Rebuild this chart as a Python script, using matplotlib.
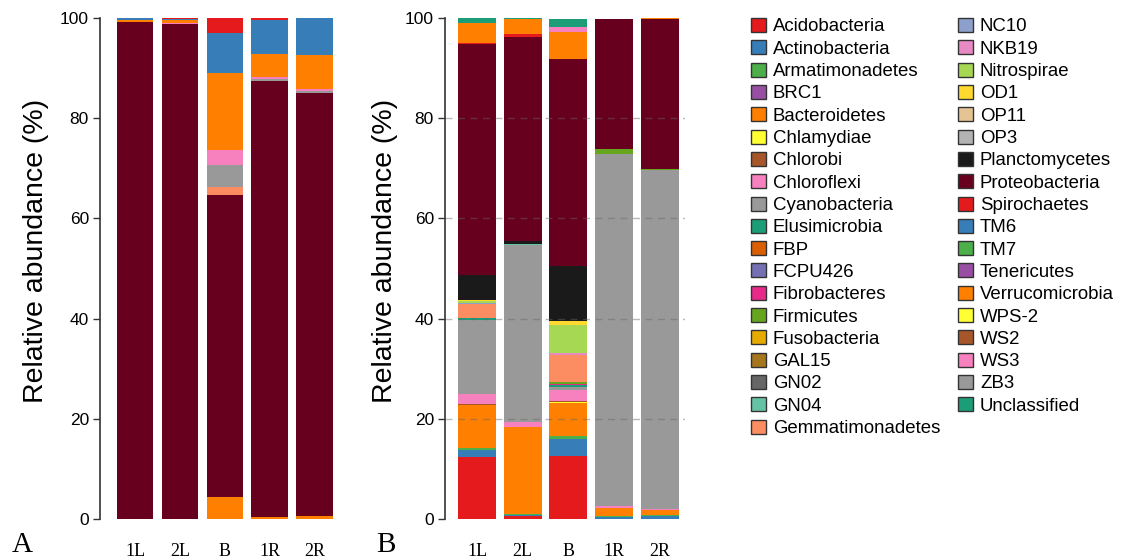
import numpy as np
import matplotlib
matplotlib.use("Agg")
import matplotlib.pyplot as plt
from matplotlib.patches import Patch

plt.rcParams['font.family'] = ['Liberation Sans', 'DejaVu Sans']

samples = ['1L', '2L', 'B', '1R', '2R']

phyla = ['Acidobacteria', 'Actinobacteria', 'Armatimonadetes', 'BRC1', 'Bacteroidetes',
         'Chlamydiae', 'Chlorobi', 'Chloroflexi', 'Cyanobacteria', 'Elusimicrobia',
         'FBP', 'FCPU426', 'Fibrobacteres', 'Firmicutes', 'Fusobacteria', 'GAL15',
         'GN02', 'GN04', 'Gemmatimonadetes', 'NC10', 'NKB19', 'Nitrospirae', 'OD1',
         'OP11', 'OP3', 'Planctomycetes', 'Proteobacteria', 'Spirochaetes', 'TM6',
         'TM7', 'Tenericutes', 'Verrucomicrobia', 'WPS-2', 'WS2', 'WS3', 'ZB3',
         'Unclassified']

colors = ['#e41a1c', '#377eb8', '#4daf4a', '#984ea3', '#ff7f00',
          '#ffff33', '#a65628', '#f781bf', '#999999', '#1b9e77',
          '#d95f02', '#7570b3', '#e7298a', '#66a61e', '#e6ab02', '#a6761d',
          '#666666', '#66c2a5', '#fc8d62', '#8da0cb', '#e78ac3', '#a6d854', '#ffd92f',
          '#e5c494', '#b3b3b3', '#1a1a1a', '#67001f', '#e41a1c', '#377eb8',
          '#4daf4a', '#984ea3', '#ff7f00', '#ffff33', '#a65628', '#f781bf', '#999999',
          '#1b9e77']

# panel A (stacked with the legend order reversed: Acidobacteria on top)
panel_a = {
    'Acidobacteria':    [0.0, 0.1, 3.0, 0.4, 0.0],
    'Actinobacteria':   [0.4, 0.3, 7.9, 6.7, 7.4],
    'Bacteroidetes':    [0.4, 0.5, 15.4, 4.6, 6.8],
    'Chloroflexi':      [0.0, 0.3, 3.0, 0.5, 0.3],
    'Cyanobacteria':    [0.0, 0.0, 4.5, 0.4, 0.4],
    'Gemmatimonadetes': [0.0, 0.0, 1.5, 0.0, 0.0],
    'Proteobacteria':   [99.2, 98.8, 60.3, 87.0, 84.6],
    'Verrucomicrobia':  [0.0, 0.0, 4.4, 0.4, 0.5],
}

# panel B (stacked in legend order from the bottom)
panel_b = {
    'Acidobacteria':    [12.35, 0.5, 12.6, 0.0, 0.0],
    'Actinobacteria':   [1.45, 0.3, 3.3, 0.4, 0.6],
    'Armatimonadetes':  [0.3, 0.2, 0.6, 0.2, 0.1],
    'Bacteroidetes':    [8.6, 17.4, 6.6, 1.6, 1.0],
    'Chlamydiae':       [0.0, 0.0, 0.3, 0.0, 0.0],
    'Chlorobi':         [0.25, 0.0, 0.25, 0.0, 0.0],
    'Chloroflexi':      [2.0, 1.0, 2.0, 0.3, 0.3],
    'Cyanobacteria':    [14.7, 35.3, 0.7, 70.3, 67.6],
    'Elusimicrobia':    [0.4, 0.0, 0.3, 0.0, 0.0],
    'Fibrobacteres':    [0.0, 0.0, 0.3, 0.0, 0.0],
    'Firmicutes':       [0.0, 0.0, 0.3, 1.0, 0.3],
    'GN04':             [0.0, 0.2, 0.0, 0.0, 0.0],
    'Gemmatimonadetes': [2.8, 0.0, 5.5, 0.0, 0.0],
    'NC10':             [0.3, 0.0, 0.0, 0.0, 0.0],
    'NKB19':            [0.0, 0.0, 0.4, 0.0, 0.0],
    'Nitrospirae':      [0.3, 0.0, 5.5, 0.0, 0.0],
    'OD1':              [0.3, 0.0, 0.9, 0.0, 0.0],
    'Planctomycetes':   [5.0, 0.6, 11.0, 0.0, 0.0],
    'Proteobacteria':   [46.1, 40.8, 41.3, 26.1, 30.0],
    'Spirochaetes':     [0.2, 0.5, 0.0, 0.0, 0.0],
    'Verrucomicrobia':  [3.9, 3.0, 5.3, 0.0, 0.2],
    'WS3':              [0.0, 0.0, 1.0, 0.0, 0.0],
    'Unclassified':     [1.1, 0.3, 1.7, 0.0, 0.0],
}

color_of = dict(zip(phyla, colors))

fig = plt.figure(figsize=(11.25, 5.59), dpi=100)
W, H = 1125, 559


def px_axes(x0, x1, y_top, y_bot):
    return fig.add_axes([x0 / W, 1 - y_bot / H, (x1 - x0) / W, (y_bot - y_top) / H])


def stack(ax, data, order, width):
    x = np.arange(len(samples))
    bottom = np.zeros(len(samples))
    for name in order:
        if name not in data:
            continue
        vals = np.array(data[name])
        ax.bar(x, vals, width, bottom=bottom, color=color_of[name], edgecolor='none', zorder=2)
        bottom += vals


def style(ax, xlim, label_x):
    ax.set_xlim(*xlim)
    ax.set_ylim(0, 100)
    for s in ['top', 'right', 'bottom']:
        ax.spines[s].set_visible(False)
    ax.spines['left'].set_color('#333333')
    ax.spines['left'].set_linewidth(1.2)
    ax.set_yticks([0, 20, 40, 60, 80, 100])
    ax.tick_params(axis='y', length=5, width=1, color='#333333', labelsize=12.5, pad=3)
    ax.set_xticks(np.arange(len(samples)))
    ax.set_xticklabels(samples, family=['Liberation Serif', 'DejaVu Serif'], fontsize=13)
    ax.tick_params(axis='x', length=0, pad=17)
    ax.set_ylabel('Relative abundance (%)', fontsize=20.5)
    ax.yaxis.set_label_coords(label_x, 0.535)


axA = px_axes(100, 345, 18, 519)
stack(axA, panel_a, phyla[::-1], 0.82)
style(axA, (-0.78, 4.67), -0.21)

axB = px_axes(445, 685, 18, 519)
stack(axB, panel_b, phyla, 0.83)
style(axB, (-0.70, 4.55), -0.195)
for v in [20, 40, 60, 80]:
    axB.axhline(v, color='#666666', lw=1, ls=(0, (5, 4)), alpha=0.45, zorder=3)

fig.text(22 / W, 1 - 545 / H, 'A', family=['Liberation Serif', 'DejaVu Serif'],
         fontsize=21, ha='center', va='center')
fig.text(386 / W, 1 - 545 / H, 'B', family=['Liberation Serif', 'DejaVu Serif'],
         fontsize=21, ha='center', va='center')

handles = [Patch(facecolor=c, edgecolor='#333333', linewidth=1) for c in colors]
fig.legend(handles, phyla, ncol=2, loc='upper left',
           bbox_to_anchor=(751 / W, 1 - 18 / H), frameon=False, fontsize=13.4,
           borderpad=0, borderaxespad=0, labelspacing=0.26, handlelength=0.78,
           handleheight=0.78, handletextpad=0.4, columnspacing=0.95)

fig.savefig('out.png', dpi=100)
